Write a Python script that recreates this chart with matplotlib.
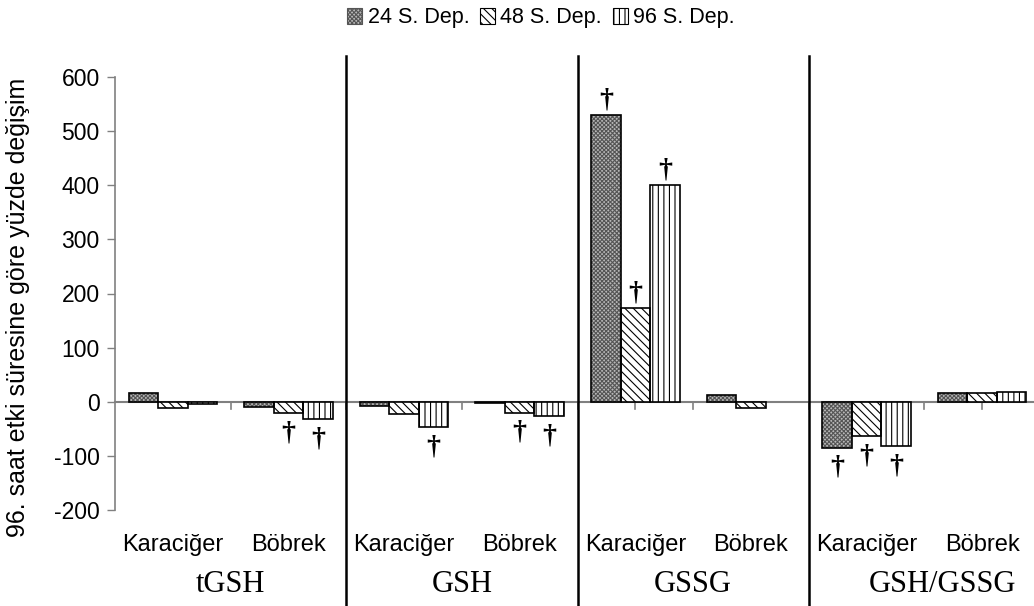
import numpy as np
import matplotlib
matplotlib.use("Agg")
import matplotlib.pyplot as plt
from matplotlib.patches import Patch
from matplotlib.transforms import blended_transform_factory

# data
groups = ["tGSH", "GSH", "GSSG", "GSH/GSSG"]
organs = ["Karaciğer", "Böbrek"]
series = ["24 S. Dep.", "48 S. Dep.", "96 S. Dep."]

dep24 = [17, -10, -7, -3, 530, 12, -85, 16]
dep48 = [-11, -21, -22, -20, 173, -11, -64, 16]
dep96 = [-4, -32, -47, -27, 400, np.nan, -82, 18]

# significance marks (index of category)
sig24 = [4, 6]
sig48 = [1, 3, 4, 6]
sig96 = [1, 2, 3, 4, 6]

yticks = [-200, -100, 0, 100, 200, 300, 400, 500, 600]

plt.rcParams['font.family'] = ['Liberation Sans', 'DejaVu Sans']
plt.rcParams['axes.unicode_minus'] = False
plt.rcParams['hatch.linewidth'] = 0.8

fig = plt.figure(figsize=(10.34, 6.06), dpi=100)
W, H = 1034, 606
ax = fig.add_axes([115 / W, 1 - 510 / H, (1040 - 115) / W, (510 - 77) / H])

x = np.arange(len(dep24))
bw = 0.255
# (facecolor, hatch, hatch colour)
styles = [
    ("#b8b8b8", "xxxxxxxx", "#555555"),
    ("white", "\\\\\\\\", "black"),
    ("white", "|||", "black"),
]
all_vals = [dep24, dep48, dep96]
all_sig = [sig24, sig48, sig96]
handles = []
for k, (vals, (fc, hatch, hc)) in enumerate(zip(all_vals, styles)):
    pos = x + (k - 1) * bw
    # hatch layer, then black outline on top
    ax.bar(pos, vals, bw, facecolor=fc, edgecolor=hc, hatch=hatch, linewidth=0, zorder=2)
    ax.bar(pos, vals, bw, fill=False, edgecolor="black", linewidth=1.2, zorder=2.5)
    handles.append(Patch(facecolor=fc, edgecolor=hc, hatch=hatch, linewidth=0.8))
    for i in all_sig[k]:
        v = vals[i]
        if v >= 0:
            ax.annotate("†", (pos[i], v), xytext=(0, 2),
                        textcoords="offset points", ha="center", va="bottom",
                        fontsize=20, family="Liberation Serif", fontweight="bold")
        else:
            ax.annotate("†", (pos[i], v), xytext=(0, -5),
                        textcoords="offset points", ha="center", va="top",
                        fontsize=20, family="Liberation Serif", fontweight="bold")

ax.set_xlim(-0.5, 7.5)
ax.set_ylim(-200, 600)
ax.set_yticks(yticks)
ax.tick_params(axis="y", labelsize=16.5, direction="out", length=6, color="#808080",
               width=1, pad=5)
ax.set_xticks([])

for s in ["top", "right", "bottom"]:
    ax.spines[s].set_visible(False)
ax.spines["left"].set_color("#808080")
ax.spines["left"].set_linewidth(1.2)

ax.axhline(0, color="#808080", lw=1.5, zorder=1, clip_on=False)

# small ticks on the zero line
for t in [0.5, 1.5, 2.5, 3.5, 4.0, 4.5, 5.5, 6.5, 7.0]:
    ax.plot([t, t], [0, -14], color="#808080", lw=1.2, zorder=1)

# group dividers
trans = blended_transform_factory(ax.transData, ax.transAxes)
for d in [1.5, 3.5, 5.5]:
    ax.plot([d, d], [(510 - 606) / 433, (510 - 56) / 433], color="black", lw=1.8,
            transform=trans, clip_on=False, zorder=3)

for i, name in enumerate(organs * 4):
    ax.text(i, (510 - 545) / 433, name, transform=trans, ha="center", va="center",
            fontsize=17)

gx = [0.5, 2.5, 4.5, 6.66]
for g, gxi in zip(groups, gx):
    ax.text(gxi, (510 - 585) / 433, g, transform=trans, ha="center", va="center",
            fontsize=22, family="Liberation Serif")

fig.text(18 / W, 1 - 307 / H, "96. saat etki süresine göre yüzde değişim",
         rotation=90, ha="center", va="center", fontsize=18)

fig.legend(handles=handles, labels=series, loc="center", bbox_to_anchor=(541 / W, 1 - 18 / H),
           ncol=3, frameon=False, fontsize=15.5, handlelength=0.7, handleheight=0.7,
           handletextpad=0.25, columnspacing=0.5, borderaxespad=0)

fig.savefig("out.png", dpi=100)
